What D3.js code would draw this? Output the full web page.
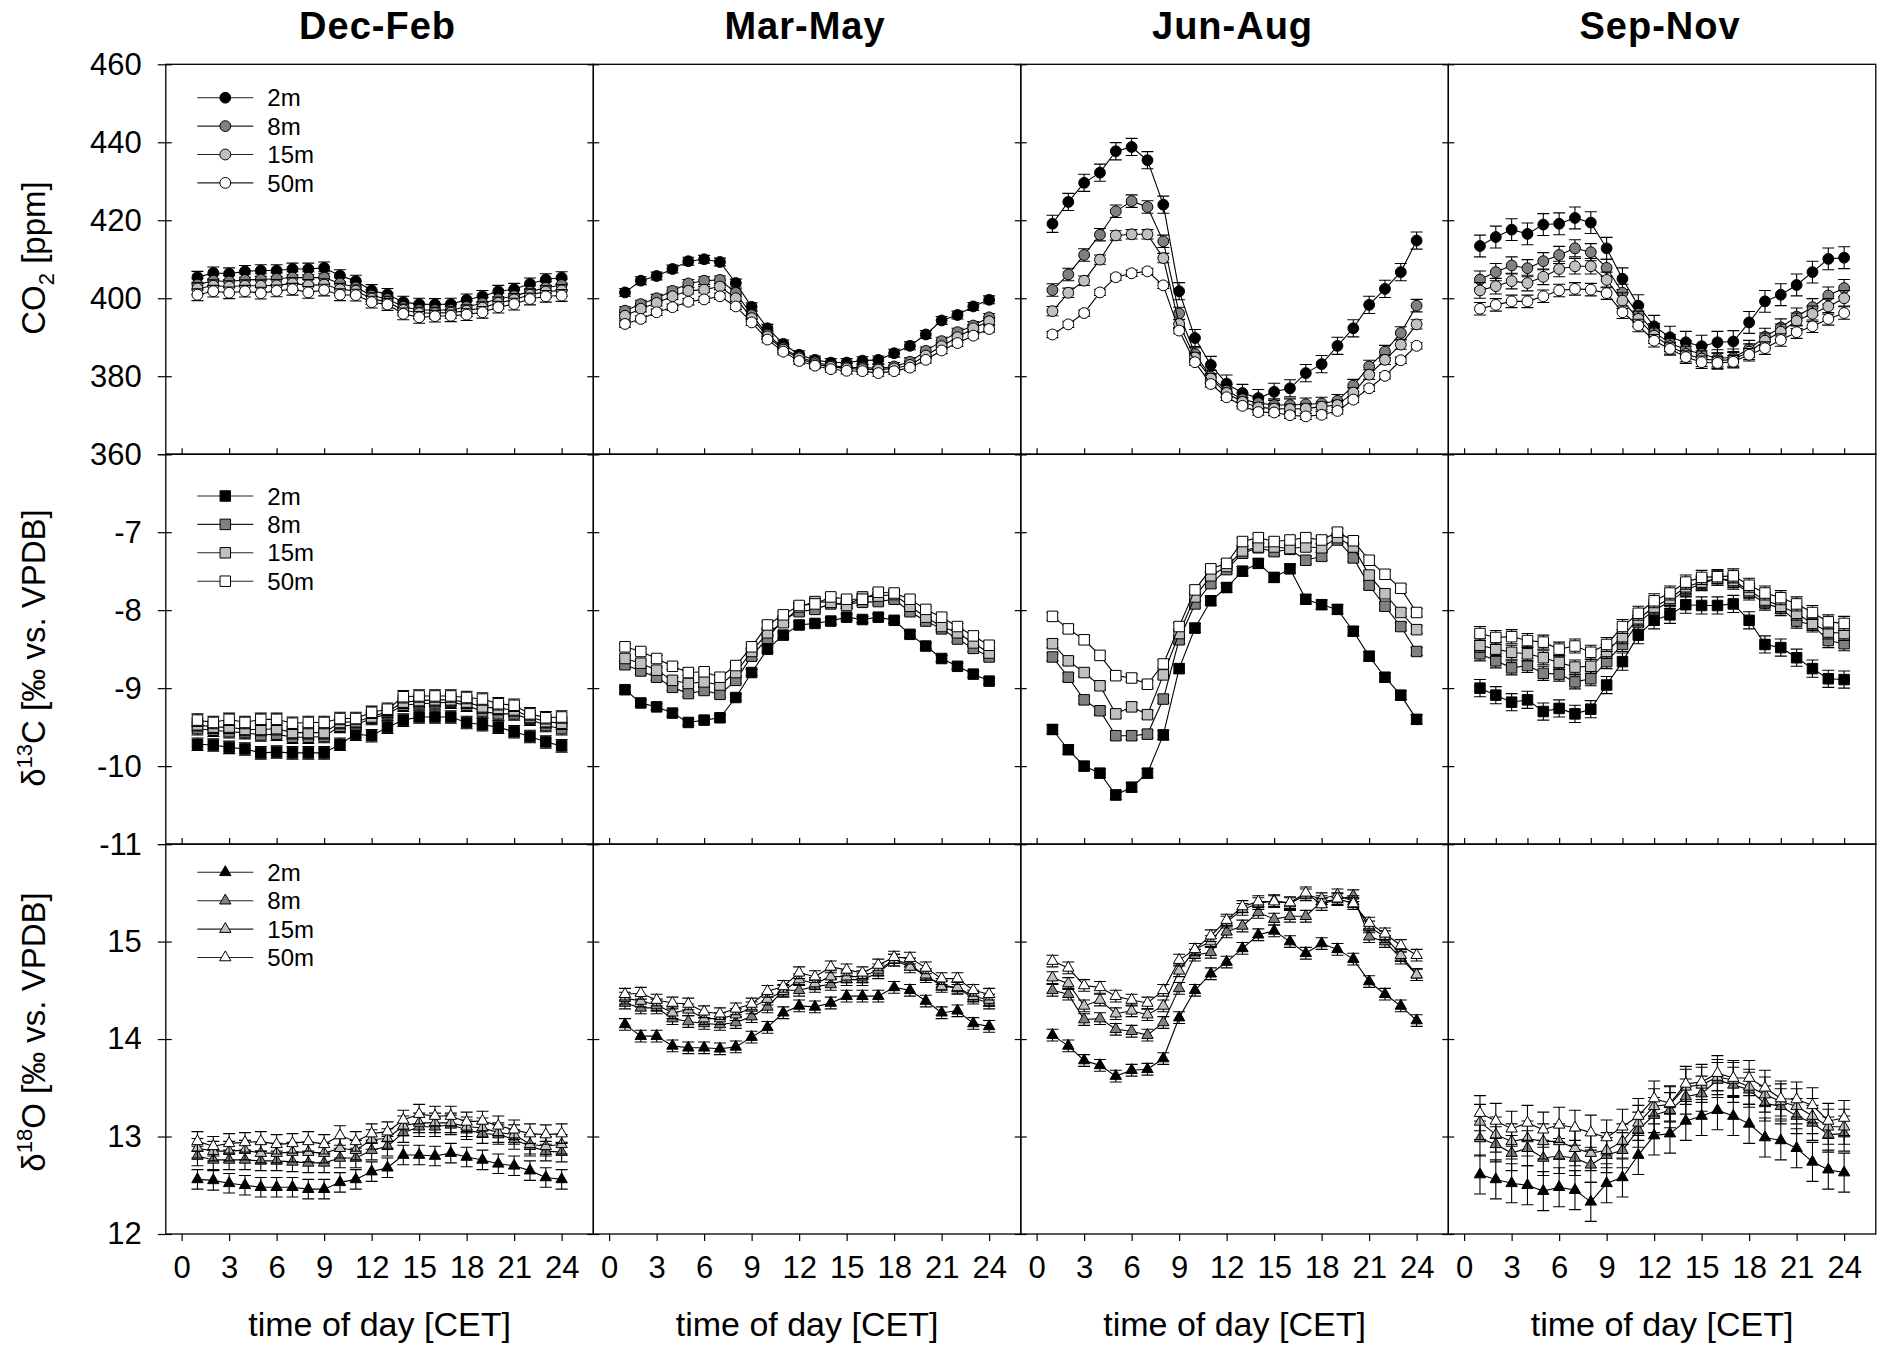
<!DOCTYPE html>
<html>
<head>
<meta charset="utf-8">
<script src="https://cdn.jsdelivr.net/npm/d3@7"></script>
<style>
  body { margin: 0; background: #fff; }
  svg { font-family: "Liberation Sans", Arial, sans-serif; }
</style>
</head>
<body>
<svg id="chart" width="1883" height="1347"></svg>
<script>
const hours = d3.range(1, 25);
const seasons = ['Dec-Feb', 'Mar-May', 'Jun-Aug', 'Sep-Nov'];
const levels = ['2m', '8m', '15m', '50m'];

// tick values
const hourTicks = [0, 3, 6, 9, 12, 15, 18, 21, 24];
const hourTicksSon = [0, 2, 4, 6, 8, 10, 12, 14, 16, 18, 20, 22, 24];
const co2Ticks = [360, 380, 400, 420, 440, 460];
const co2Labels = [360, 380, 400, 420, 440, 460];
const d13cTicks = [-11, -10, -9, -8, -7, -6];
const d13cLabels = [-11, -10, -9, -8, -7];
const d18oTicks = [12, 13, 14, 15, 16];
const d18oLabels = [12, 13, 14, 15];

// CO2 [ppm]
const co2_djf_2m  = [405.4, 406.5, 406.3, 406.9, 407.1, 407.1, 407.5, 407.5, 407.8, 405.8, 404.4, 402.0, 401.0, 399.0, 398.5, 398.4, 398.5, 399.6, 400.5, 401.8, 402.3, 403.7, 404.8, 405.3];
const co2_djf_8m  = [403.5, 404.5, 404.3, 404.7, 404.8, 405.0, 405.3, 405.3, 405.3, 403.8, 402.8, 400.7, 399.8, 397.8, 397.0, 397.0, 397.0, 397.8, 398.7, 399.8, 400.6, 401.7, 402.7, 403.4];
const co2_djf_15m = [402.5, 403.2, 403.0, 403.2, 403.2, 403.3, 403.8, 403.3, 403.5, 402.3, 401.9, 399.9, 399.0, 397.0, 396.2, 396.2, 396.3, 396.8, 397.6, 398.8, 399.7, 400.9, 401.7, 402.0];
const co2_djf_50m = [400.9, 401.8, 401.4, 401.8, 401.3, 401.9, 402.3, 401.5, 402.1, 400.9, 400.8, 399.0, 398.4, 396.0, 395.1, 395.4, 395.5, 395.8, 396.4, 397.7, 398.5, 399.8, 400.5, 400.7];

const co2_mam_2m  = [401.5, 404.5, 405.7, 407.5, 409.5, 410.0, 409.3, 403.9, 397.8, 392.3, 388.3, 385.5, 384.2, 383.5, 383.5, 384.0, 384.2, 385.9, 387.8, 390.7, 394.3, 395.7, 397.9, 399.6];
const co2_mam_8m  = [396.8, 398.5, 400.0, 401.9, 403.8, 404.5, 404.7, 401.4, 395.7, 390.7, 387.2, 384.9, 383.6, 382.7, 382.3, 382.2, 382.0, 382.5, 383.7, 386.5, 389.0, 391.3, 393.0, 395.1];
const co2_mam_15m = [395.5, 397.3, 398.8, 400.5, 401.9, 402.2, 403.0, 400.0, 394.9, 390.2, 386.8, 384.6, 383.1, 382.4, 382.0, 381.8, 381.7, 382.0, 382.9, 385.3, 387.7, 390.0, 392.3, 394.1];
const co2_mam_50m = [393.4, 394.7, 396.4, 397.7, 399.1, 399.7, 400.5, 397.9, 393.8, 389.4, 386.3, 383.9, 382.7, 381.8, 381.4, 381.3, 380.8, 381.3, 382.2, 384.2, 386.6, 388.5, 390.4, 392.1];

const co2_jja_2m  = [419.1, 424.7, 429.6, 432.2, 437.7, 438.8, 435.4, 424.0, 401.8, 389.8, 382.9, 378.1, 375.7, 374.4, 376.0, 376.9, 380.8, 383.1, 387.8, 392.3, 398.3, 402.4, 406.7, 414.8];
const co2_jja_8m  = [402.1, 406.1, 411.1, 416.3, 422.3, 424.9, 423.4, 414.6, 396.1, 385.7, 379.9, 376.3, 374.1, 373.1, 372.6, 372.6, 372.8, 373.0, 373.7, 377.6, 382.5, 386.3, 391.1, 398.1];
const co2_jja_15m = [396.7, 401.4, 404.5, 409.9, 416.1, 416.4, 416.4, 410.3, 393.4, 384.8, 379.4, 375.7, 373.4, 372.0, 371.7, 371.6, 371.7, 372.2, 372.6, 375.8, 380.4, 384.2, 388.1, 393.3];
const co2_jja_50m = [390.7, 393.3, 396.2, 401.5, 405.4, 406.4, 406.9, 403.3, 391.7, 383.6, 378.0, 374.6, 372.4, 370.8, 370.7, 370.0, 369.7, 370.1, 371.1, 374.0, 376.9, 380.1, 384.1, 387.8];

const co2_son_2m  = [413.4, 415.7, 417.6, 416.5, 418.9, 419.1, 420.6, 419.4, 412.8, 405.0, 398.1, 392.8, 390.0, 388.7, 387.7, 388.7, 388.9, 393.8, 399.2, 400.9, 403.4, 406.7, 410.1, 410.4];
const co2_son_8m  = [404.8, 406.7, 408.4, 407.7, 409.5, 411.1, 412.8, 411.8, 407.8, 401.4, 396.0, 391.3, 388.5, 386.8, 385.7, 384.6, 384.8, 387.0, 390.1, 392.5, 395.3, 397.7, 400.7, 402.6];
const co2_son_15m = [402.0, 403.1, 404.4, 403.9, 405.5, 407.5, 408.2, 408.2, 404.7, 399.4, 394.7, 390.4, 387.7, 385.7, 384.5, 384.0, 384.3, 386.3, 389.1, 391.4, 394.2, 396.0, 397.9, 400.0];
const co2_son_50m = [397.3, 398.3, 399.2, 399.2, 400.5, 402.0, 402.4, 402.2, 401.3, 396.4, 393.0, 389.1, 387.0, 384.9, 383.6, 383.4, 383.7, 385.5, 387.2, 389.3, 391.3, 392.8, 394.7, 396.2];

// d13C [permil vs. VPDB]
const d13c_djf_2m  = [-9.72, -9.73, -9.76, -9.78, -9.83, -9.82, -9.83, -9.83, -9.83, -9.72, -9.59, -9.61, -9.50, -9.41, -9.37, -9.37, -9.37, -9.44, -9.47, -9.50, -9.56, -9.62, -9.69, -9.74];
const d13c_djf_8m  = [-9.52, -9.54, -9.56, -9.57, -9.60, -9.59, -9.63, -9.63, -9.62, -9.49, -9.47, -9.39, -9.33, -9.22, -9.20, -9.19, -9.18, -9.22, -9.30, -9.33, -9.33, -9.40, -9.48, -9.52];
const d13c_djf_15m = [-9.47, -9.50, -9.50, -9.53, -9.53, -9.52, -9.57, -9.57, -9.57, -9.44, -9.43, -9.37, -9.30, -9.18, -9.16, -9.15, -9.15, -9.18, -9.24, -9.26, -9.28, -9.37, -9.43, -9.45];
const d13c_djf_50m = [-9.41, -9.44, -9.40, -9.44, -9.40, -9.40, -9.45, -9.44, -9.44, -9.39, -9.39, -9.31, -9.27, -9.11, -9.10, -9.10, -9.10, -9.12, -9.14, -9.20, -9.22, -9.33, -9.38, -9.37];

const d13c_mam_2m  = [-9.02, -9.19, -9.24, -9.32, -9.44, -9.41, -9.38, -9.12, -8.80, -8.50, -8.32, -8.19, -8.17, -8.14, -8.09, -8.12, -8.09, -8.13, -8.31, -8.46, -8.62, -8.72, -8.82, -8.91];
const d13c_mam_8m  = [-8.70, -8.78, -8.86, -8.99, -9.07, -9.03, -9.08, -8.90, -8.59, -8.36, -8.12, -8.02, -7.99, -7.92, -7.92, -7.90, -7.89, -7.86, -8.02, -8.14, -8.24, -8.37, -8.49, -8.60];
const d13c_mam_15m = [-8.62, -8.68, -8.77, -8.90, -8.94, -8.92, -8.96, -8.80, -8.53, -8.29, -8.16, -7.96, -7.89, -7.90, -7.94, -7.83, -7.82, -7.80, -7.95, -8.09, -8.21, -8.29, -8.42, -8.55];
const d13c_mam_50m = [-8.47, -8.53, -8.62, -8.72, -8.80, -8.79, -8.86, -8.71, -8.47, -8.19, -8.06, -7.94, -7.92, -7.83, -7.86, -7.86, -7.77, -7.78, -7.86, -7.99, -8.09, -8.21, -8.33, -8.45];

const d13c_jja_2m  = [-9.53, -9.79, -10.00, -10.09, -10.37, -10.27, -10.09, -9.60, -8.75, -8.23, -7.88, -7.71, -7.50, -7.40, -7.58, -7.47, -7.86, -7.93, -7.99, -8.27, -8.59, -8.86, -9.09, -9.40];
const d13c_jja_8m  = [-8.60, -8.86, -9.15, -9.29, -9.61, -9.61, -9.59, -9.14, -8.38, -7.92, -7.66, -7.48, -7.27, -7.20, -7.25, -7.22, -7.36, -7.31, -7.10, -7.33, -7.68, -7.95, -8.21, -8.53];
const d13c_jja_15m = [-8.43, -8.65, -8.80, -8.97, -9.33, -9.24, -9.34, -8.83, -8.30, -7.83, -7.56, -7.44, -7.24, -7.19, -7.19, -7.21, -7.19, -7.20, -7.07, -7.19, -7.55, -7.79, -8.03, -8.25];
const d13c_jja_50m = [-8.08, -8.24, -8.38, -8.58, -8.84, -8.87, -8.95, -8.69, -8.21, -7.74, -7.47, -7.40, -7.12, -7.07, -7.12, -7.10, -7.07, -7.10, -7.00, -7.11, -7.36, -7.54, -7.72, -8.03];

const d13c_son_2m  = [-9.00, -9.09, -9.18, -9.15, -9.30, -9.26, -9.33, -9.27, -8.96, -8.66, -8.32, -8.13, -8.06, -7.93, -7.94, -7.94, -7.92, -8.13, -8.44, -8.48, -8.61, -8.75, -8.88, -8.89];
const d13c_son_8m  = [-8.56, -8.65, -8.74, -8.71, -8.81, -8.82, -8.92, -8.88, -8.66, -8.44, -8.16, -8.00, -7.89, -7.74, -7.66, -7.59, -7.64, -7.78, -7.91, -7.98, -8.14, -8.19, -8.39, -8.43];
const d13c_son_15m = [-8.45, -8.50, -8.54, -8.56, -8.61, -8.67, -8.73, -8.72, -8.53, -8.34, -8.11, -7.96, -7.85, -7.70, -7.64, -7.59, -7.62, -7.75, -7.87, -7.95, -8.04, -8.17, -8.28, -8.30];
const d13c_son_50m = [-8.30, -8.35, -8.34, -8.39, -8.41, -8.50, -8.46, -8.54, -8.44, -8.21, -8.04, -7.88, -7.78, -7.64, -7.58, -7.57, -7.56, -7.68, -7.78, -7.84, -7.92, -8.03, -8.15, -8.17];

// d18O [permil vs. VPDB]
const d18o_djf_2m  = [12.56, 12.55, 12.52, 12.50, 12.48, 12.48, 12.48, 12.46, 12.46, 12.53, 12.56, 12.64, 12.68, 12.81, 12.81, 12.80, 12.83, 12.79, 12.76, 12.72, 12.70, 12.65, 12.58, 12.56];
const d18o_djf_8m  = [12.80, 12.76, 12.76, 12.76, 12.75, 12.75, 12.74, 12.73, 12.73, 12.78, 12.78, 12.86, 12.90, 13.04, 13.10, 13.10, 13.12, 13.07, 13.03, 13.02, 12.97, 12.90, 12.85, 12.84];
const d18o_djf_15m = [12.88, 12.85, 12.85, 12.86, 12.83, 12.83, 12.84, 12.84, 12.83, 12.88, 12.86, 12.97, 12.98, 13.11, 13.14, 13.14, 13.14, 13.10, 13.09, 13.04, 13.02, 12.92, 12.90, 12.92];
const d18o_djf_50m = [12.95, 12.90, 12.93, 12.94, 12.95, 12.92, 12.93, 12.95, 12.92, 13.01, 12.95, 13.03, 13.05, 13.17, 13.23, 13.21, 13.21, 13.15, 13.16, 13.11, 13.07, 13.03, 13.02, 13.03];

const d18o_mam_2m  = [14.15, 14.03, 14.03, 13.93, 13.91, 13.91, 13.90, 13.92, 14.02, 14.12, 14.27, 14.34, 14.33, 14.37, 14.44, 14.44, 14.44, 14.53, 14.50, 14.39, 14.27, 14.29, 14.16, 14.13];
const d18o_mam_8m  = [14.37, 14.32, 14.32, 14.21, 14.18, 14.16, 14.15, 14.17, 14.23, 14.33, 14.50, 14.50, 14.54, 14.56, 14.61, 14.61, 14.68, 14.81, 14.77, 14.64, 14.56, 14.52, 14.42, 14.37];
const d18o_mam_15m = [14.42, 14.39, 14.35, 14.27, 14.30, 14.21, 14.21, 14.25, 14.32, 14.41, 14.49, 14.61, 14.57, 14.64, 14.64, 14.64, 14.71, 14.81, 14.74, 14.66, 14.54, 14.53, 14.44, 14.40];
const d18o_mam_50m = [14.46, 14.47, 14.40, 14.37, 14.36, 14.28, 14.26, 14.31, 14.36, 14.49, 14.54, 14.68, 14.64, 14.74, 14.71, 14.68, 14.76, 14.84, 14.83, 14.73, 14.62, 14.62, 14.50, 14.46];

const d18o_jja_2m  = [14.04, 13.93, 13.78, 13.73, 13.62, 13.68, 13.69, 13.80, 14.22, 14.50, 14.67, 14.79, 14.93, 15.07, 15.11, 15.00, 14.88, 14.98, 14.92, 14.82, 14.59, 14.46, 14.34, 14.19];
const d18o_jja_8m  = [14.50, 14.46, 14.20, 14.21, 14.10, 14.08, 14.04, 14.17, 14.52, 14.86, 14.89, 15.10, 15.16, 15.30, 15.23, 15.26, 15.26, 15.41, 15.43, 15.47, 15.05, 15.00, 14.83, 14.66];
const d18o_jja_15m = [14.63, 14.57, 14.34, 14.40, 14.26, 14.29, 14.25, 14.34, 14.70, 14.92, 15.00, 15.20, 15.33, 15.39, 15.42, 15.39, 15.48, 15.44, 15.48, 15.41, 15.15, 15.05, 14.86, 14.66];
const d18o_jja_50m = [14.80, 14.73, 14.55, 14.53, 14.44, 14.40, 14.37, 14.50, 14.81, 14.92, 15.06, 15.22, 15.36, 15.41, 15.41, 15.40, 15.50, 15.38, 15.44, 15.39, 15.19, 15.08, 14.96, 14.86];

const d18o_son_2m  = [12.61, 12.56, 12.52, 12.50, 12.44, 12.48, 12.45, 12.33, 12.52, 12.58, 12.81, 13.01, 13.03, 13.16, 13.21, 13.27, 13.21, 13.13, 12.99, 12.96, 12.88, 12.74, 12.66, 12.63];
const d18o_son_8m  = [12.98, 12.92, 12.83, 12.88, 12.78, 12.80, 12.78, 12.71, 12.81, 12.86, 13.07, 13.22, 13.27, 13.41, 13.44, 13.58, 13.53, 13.48, 13.34, 13.31, 13.21, 13.14, 13.02, 13.03];
const d18o_son_15m = [13.15, 13.02, 12.95, 12.98, 12.95, 12.95, 12.88, 12.83, 12.86, 12.95, 13.14, 13.31, 13.33, 13.51, 13.53, 13.61, 13.58, 13.51, 13.43, 13.36, 13.31, 13.21, 13.10, 13.10];
const d18o_son_50m = [13.24, 13.16, 13.08, 13.14, 13.07, 13.12, 13.09, 13.04, 12.99, 13.10, 13.21, 13.39, 13.34, 13.54, 13.56, 13.65, 13.60, 13.60, 13.50, 13.39, 13.38, 13.32, 13.16, 13.19];

// error bar half-widths per level (2m, 8m, 15m, 50m)
const err_co2_djf = [1.5, 1.5, 1.5, 1.5];
const err_co2_mam = [1.0, 1.0, 0.8, 0.8];
const err_co2_jja = [2.2, 1.6, 1.2, 0.8];
const err_co2_son = [2.8, 2.2, 2.0, 1.6];
const err_d13c_djf = [0.08, 0.08, 0.08, 0.08];
const err_d13c_mam = [0.04, 0.04, 0.04, 0.04];
const err_d13c_jja = [0.06, 0.05, 0.05, 0.05];
const err_d13c_son = [0.11, 0.09, 0.09, 0.09];
const err_d18o_djf = [0.10, 0.10, 0.10, 0.10];
const err_d18o_mam = [0.06, 0.06, 0.06, 0.06];
const err_d18o_jja = [0.06, 0.06, 0.06, 0.06];
const err_d18o_son = [0.20, 0.18, 0.18, 0.18];

const rows = [
  { domain: [360, 460], ticks: co2Ticks, labels: co2Labels, symbol: d3.symbolCircle, size: 92,
    panels: [
      { series: [co2_djf_2m, co2_djf_8m, co2_djf_15m, co2_djf_50m], err: err_co2_djf },
      { series: [co2_mam_2m, co2_mam_8m, co2_mam_15m, co2_mam_50m], err: err_co2_mam },
      { series: [co2_jja_2m, co2_jja_8m, co2_jja_15m, co2_jja_50m], err: err_co2_jja },
      { series: [co2_son_2m, co2_son_8m, co2_son_15m, co2_son_50m], err: err_co2_son }
    ], legendTop: 33.4, titleY: 258 },
  { domain: [-11, -6], ticks: d13cTicks, labels: d13cLabels, symbol: d3.symbolSquare, size: 110,
    panels: [
      { series: [d13c_djf_2m, d13c_djf_8m, d13c_djf_15m, d13c_djf_50m], err: err_d13c_djf },
      { series: [d13c_mam_2m, d13c_mam_8m, d13c_mam_15m, d13c_mam_50m], err: err_d13c_mam },
      { series: [d13c_jja_2m, d13c_jja_8m, d13c_jja_15m, d13c_jja_50m], err: err_d13c_jja },
      { series: [d13c_son_2m, d13c_son_8m, d13c_son_15m, d13c_son_50m], err: err_d13c_son }
    ], legendTop: 41.8, titleY: 648 },
  { domain: [12, 16], ticks: d18oTicks, labels: d18oLabels, symbol: d3.symbolTriangle, size: 56,
    panels: [
      { series: [d18o_djf_2m, d18o_djf_8m, d18o_djf_15m, d18o_djf_50m], err: err_d18o_djf },
      { series: [d18o_mam_2m, d18o_mam_8m, d18o_mam_15m, d18o_mam_50m], err: err_d18o_mam },
      { series: [d18o_jja_2m, d18o_jja_8m, d18o_jja_15m, d18o_jja_50m], err: err_d18o_jja },
      { series: [d18o_son_2m, d18o_son_8m, d18o_son_15m, d18o_son_50m], err: err_d18o_son }
    ], legendTop: 28.2, titleY: 1032 }
];

const fills = ['#000000', '#808080', '#c0c0c0', '#ffffff'];
const plotLeft = 165.8, plotTop = 64.3, panelW = 427.5, panelH = 389.9;
const tickFont = 31;

const svg = d3.select('#chart');

const x = d3.scaleLinear().domain([-1, 26]).range([0, panelW]);

function styleAxis(g) {
  g.select('.domain').remove();
  g.selectAll('line').attr('stroke', '#000').attr('stroke-width', 1.2);
  g.selectAll('text').attr('font-size', tickFont).attr('fill', '#000')
    .attr('font-family', '"Liberation Sans", Arial, sans-serif');
}

// column titles
seasons.forEach((s, ci) => {
  svg.append('text')
    .attr('x', plotLeft + ci * panelW + panelW / 2 - 2)
    .attr('y', 39)
    .attr('text-anchor', 'middle')
    .attr('font-size', 38)
    .attr('letter-spacing', 1)
    .attr('font-weight', 'bold')
    .text(s);
});

rows.forEach((r, ri) => {
  const y = d3.scaleLinear().domain(r.domain).range([panelH, 0]);
  const sym = d3.symbol().type(r.symbol).size(r.size);

  r.panels.forEach((p, ci) => {
    const g = svg.append('g')
      .attr('transform', `translate(${plotLeft + ci * panelW},${plotTop + ri * panelH})`);

    // inward y ticks
    g.append('g')
      .call(d3.axisLeft(y).tickValues(r.ticks).tickSize(-6).tickSizeOuter(0).tickFormat(''))
      .call(styleAxis);
    if (ci < 3) {
      g.append('g')
        .attr('transform', `translate(${panelW},0)`)
        .call(d3.axisRight(y).tickValues(r.ticks).tickSize(-6).tickSizeOuter(0).tickFormat(''))
        .call(styleAxis);
    }
    if (ci === 0) {
      g.append('g')
        .call(d3.axisLeft(y).tickValues(r.ticks).tickSize(8).tickSizeOuter(0).tickPadding(16)
          .tickFormat(d => r.labels.includes(d) ? d : ''))
        .call(styleAxis);
    }

    // x ticks
    if (ri < 2) {
      g.append('g')
        .attr('transform', `translate(0,${panelH})`)
        .call(d3.axisBottom(x).tickValues(ci === 3 ? hourTicksSon : hourTicks)
          .tickSize(-6).tickSizeOuter(0).tickFormat(''))
        .call(styleAxis);
    } else {
      g.append('g')
        .attr('transform', `translate(0,${panelH})`)
        .call(d3.axisBottom(x).tickValues(hourTicks).tickSize(7).tickSizeOuter(0).tickPadding(15))
        .call(styleAxis);
      g.append('text')
        .attr('x', panelW / 2)
        .attr('y', 1336 - (plotTop + ri * panelH))
        .attr('text-anchor', 'middle')
        .attr('font-size', 34)
        .text('time of day [CET]');
    }

    // series: line, error bars, symbols
    const line = d3.line().x((d, i) => x(hours[i])).y(d => y(d));
    p.series.forEach((vals, si) => {
      const e = p.err[si];
      const sg = g.append('g');
      sg.append('path')
        .attr('d', line(vals))
        .attr('fill', 'none')
        .attr('stroke', '#000')
        .attr('stroke-width', 1.1);
      sg.selectAll('.eb').data(vals).join('path')
        .attr('class', 'eb')
        .attr('d', (d, i) => {
          const cx = x(hours[i]), y0 = y(d - e), y1 = y(d + e);
          return `M${cx},${y0}V${y1}M${cx - 6},${y0}H${cx + 6}M${cx - 6},${y1}H${cx + 6}`;
        })
        .attr('fill', 'none')
        .attr('stroke', '#000')
        .attr('stroke-width', 1.1);
      sg.selectAll('.mk').data(vals).join('path')
        .attr('class', 'mk')
        .attr('transform', (d, i) => `translate(${x(hours[i])},${y(d)})`)
        .attr('d', sym())
        .attr('fill', fills[si])
        .attr('stroke', '#000')
        .attr('stroke-width', 1);
    });

    // legend in first column
    if (ci === 0) {
      levels.forEach((lv, si) => {
        const ly = r.legendTop + si * 28.4;
        g.append('line')
          .attr('x1', 31.5).attr('x2', 87.5).attr('y1', ly).attr('y2', ly)
          .attr('stroke', '#222').attr('stroke-width', 1.1);
        g.append('path')
          .attr('transform', `translate(59.5,${ly})`)
          .attr('d', sym())
          .attr('fill', fills[si]).attr('stroke', '#000').attr('stroke-width', 1);
        g.append('text')
          .attr('x', 101.5).attr('y', ly).attr('dy', '0.36em')
          .attr('font-size', 24)
          .text(lv);
      });
    }

    // panel frame
    g.append('rect')
      .attr('width', panelW).attr('height', panelH)
      .attr('fill', 'none').attr('stroke', '#000').attr('stroke-width', 1.3);
  });
});

// y axis titles
function yTitle(cy, parts) {
  const t = svg.append('text')
    .attr('transform', `translate(33,${cy}) rotate(-90)`)
    .attr('text-anchor', 'middle')
    .attr('font-size', 33);
  let first = true;
  parts.forEach(([txt, kind]) => {
    const ts = t.append('tspan').text(txt);
    if (kind === 'sub') ts.attr('font-size', 22).attr('dy', 9);
    else if (kind === 'sup') ts.attr('font-size', 22).attr('dy', -13);
    else if (kind === 'afterSub') ts.attr('dy', -9);
    else if (kind === 'afterSup') ts.attr('dy', 13);
    else if (first) ts.attr('dy', '0.35em');
    first = false;
  });
}
yTitle(rows[0].titleY, [['CO', ''], ['2', 'sub'], [' [ppm]', 'afterSub']]);
yTitle(rows[1].titleY, [['δ', ''], ['13', 'sup'], ['C [‰ vs. VPDB]', 'afterSup']]);
yTitle(rows[2].titleY, [['δ', ''], ['18', 'sup'], ['O [‰ vs. VPDB]', 'afterSup']]);
</script>
</body>
</html>
